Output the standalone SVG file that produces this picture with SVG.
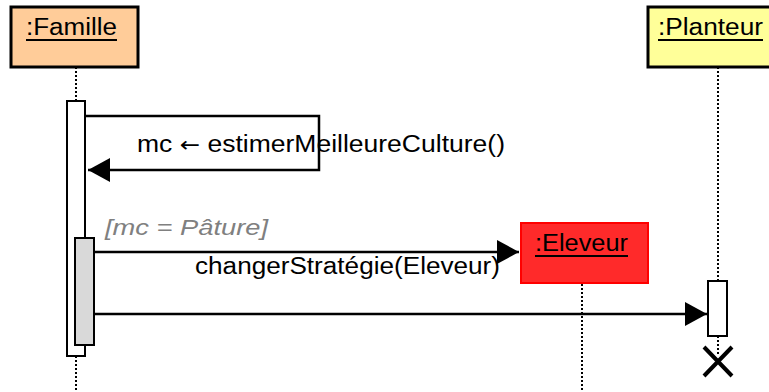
<svg xmlns="http://www.w3.org/2000/svg" width="769" height="392" viewBox="0 0 769 392">
<style>
.head{stroke:#000;stroke-width:3}
.ht{font-family:"Liberation Sans",Arial,sans-serif;font-size:23px;fill:#000}
.ul{stroke:#000;stroke-width:2}
.life{stroke:#000;stroke-width:2;stroke-dasharray:2 2;fill:none}
.act{fill:#fff;stroke:#000;stroke-width:2}
.msg{stroke:#000;stroke-width:2.5;fill:none}
.mt{font-family:"Liberation Sans",Arial,sans-serif;font-size:23px;fill:#000}
</style>
<defs>
<marker id="arr" markerUnits="userSpaceOnUse" markerWidth="24" markerHeight="26" refX="22" refY="12" orient="auto" viewBox="0 0 24 26">
<path d="M0,0 L22,12 L0,24 z" fill="#000"/>
</marker>
</defs>
<rect width="769" height="392" fill="#fff"/>
<g id="connectors">
<path class="msg" d="M86,116 H319 V170 H88" marker-end="url(#arr)"/>
<line class="msg" x1="94" y1="252" x2="519" y2="252" marker-end="url(#arr)"/>
<line class="msg" x1="94" y1="314" x2="707" y2="314" marker-end="url(#arr)"/>
<text class="mt" x="137" y="152" textLength="368" lengthAdjust="spacingAndGlyphs">mc <tspan font-family="'DejaVu Sans',sans-serif" font-size="21">←</tspan> estimerMeilleureCulture()</text>
<text x="105" y="235" font-family="'Liberation Sans',Arial,sans-serif" font-size="22" font-style="italic" fill="#808080" textLength="163" lengthAdjust="spacingAndGlyphs">[mc = Pâture]</text>
<text class="mt" x="195" y="274" textLength="305" lengthAdjust="spacingAndGlyphs">changerStratégie(Eleveur)</text>
</g>
<g id="famille">
<line class="life" x1="76" y1="67" x2="76" y2="100"/>
<line class="life" x1="76" y1="356" x2="76" y2="392"/>
<rect class="head" x="11" y="7" width="127" height="60" fill="#ffcc99"/>
<text class="ht" x="26" y="35" textLength="91" lengthAdjust="spacingAndGlyphs">:Famille</text>
<line class="ul" x1="26" y1="40" x2="117" y2="40"/>
<rect class="act" x="67" y="101" width="18" height="255"/>
<rect x="75" y="238" width="19" height="107" fill="#d9d9d9" stroke="#000" stroke-width="2"/>
</g>
<g id="planteur">
<line class="life" x1="718" y1="67" x2="718" y2="281"/>
<line class="life" x1="718" y1="336" x2="718" y2="355"/>
<rect class="head" x="648" y="7" width="127" height="60" fill="#ffff99"/>
<text class="ht" x="658" y="35" textLength="105" lengthAdjust="spacingAndGlyphs">:Planteur</text>
<line class="ul" x1="658" y1="40" x2="763" y2="40"/>
<rect class="act" x="708" y="281" width="19" height="55"/>
<path d="M704,347 L732,376 M732,347 L704,376" stroke="#000" stroke-width="4"/>
</g>
<g id="eleveur">
<line class="life" x1="582" y1="276" x2="582" y2="392"/>
<rect x="521" y="223" width="127" height="60" fill="#ff2a2a" stroke="#ff0000" stroke-width="2"/>
<text class="ht" x="535" y="251" textLength="93" lengthAdjust="spacingAndGlyphs">:Eleveur</text>
<line class="ul" x1="535" y1="256" x2="628" y2="256"/>
</g>
</svg>
